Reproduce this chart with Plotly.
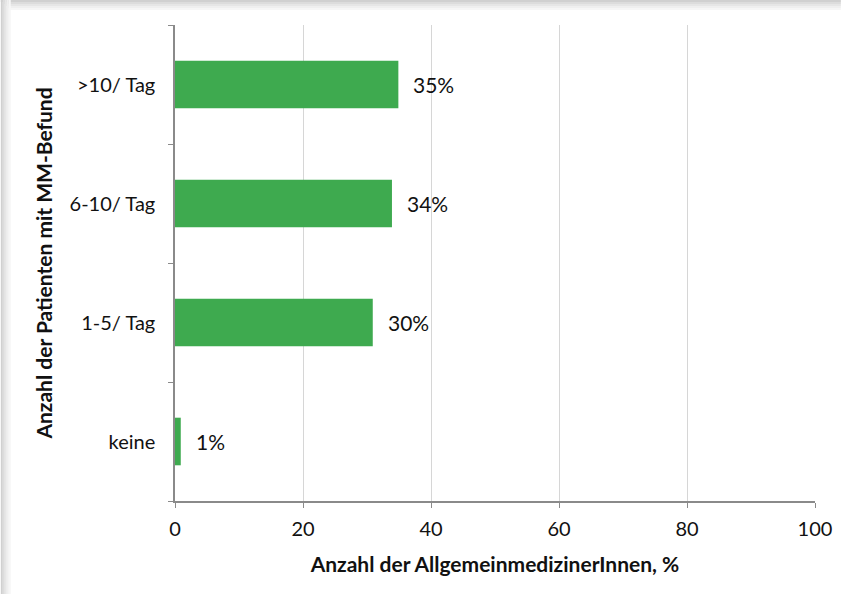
import plotly.graph_objects as go

categories = ["keine", "1-5/ Tag", "6-10/ Tag", ">10/ Tag"]
values = [0.9, 30.9, 33.9, 34.9]
labels = ["1%", "30%", "34%", "35%"]
x_ticks = [0, 20, 40, 60, 80, 100]

FONT = "Lato"
GREEN = "#3EAA4F"
TXT = "#111111"

fig = go.Figure()
fig.add_trace(go.Bar(
    x=values, y=categories, orientation="h",
    marker=dict(color=GREEN, line=dict(width=0)),
    width=0.4, hoverinfo="skip",
))

for v, c, t in zip(values, categories, labels):
    fig.add_annotation(x=v, y=c, text=t, showarrow=False, xanchor="left",
                       xshift=13, font=dict(family=FONT, size=21, color=TXT))

fig.update_layout(
    width=844, height=594,
    margin=dict(l=175, r=26, t=25, b=93),
    paper_bgcolor="white", plot_bgcolor="white",
    showlegend=False,
    font=dict(family=FONT, size=21, color=TXT),
    xaxis=dict(
        range=[0, 100], tickvals=x_ticks, ticktext=[str(v) for v in x_ticks],
        showgrid=True, gridcolor="#d6d6d6", gridwidth=1.3,
        showline=True, linecolor="#8a8a8a", linewidth=1.5,
        ticks="outside", ticklen=5, tickcolor="#8a8a8a",
        ticklabelstandoff=4, zeroline=False,
        tickfont=dict(family=FONT, size=20, color=TXT),
        title=dict(text="<b>Anzahl der AllgemeinmedizinerInnen, %</b>",
                   font=dict(family=FONT, size=21, color=TXT), standoff=19),
    ),
    yaxis=dict(
        type="category", categoryorder="array", categoryarray=categories,
        range=[-0.5, 3.5], tickson="boundaries",
        showgrid=False, showline=True, linecolor="#8a8a8a", linewidth=1.5,
        ticks="outside", ticklen=5, tickcolor="#8a8a8a",
        ticklabelstandoff=14,
        tickfont=dict(family=FONT, size=20, color=TXT),
        title=dict(text="<b>Anzahl der Patienten mit MM-Befund</b>",
                   font=dict(family=FONT, size=21, color=TXT), standoff=11),
    ),
)

# panel shadow along left and top edges
shades = ["#d0d0d0", "#dcdcdc", "#e6e6e6", "#efefef", "#f6f6f6"]
for i, col in enumerate(shades):
    fig.add_shape(type="rect", xref="paper", yref="paper",
                  x0=(i * 2 - 175) / 643, x1=(i * 2 + 2 - 175) / 643,
                  y0=(594 - 93 - 594) / 476, y1=(594 - 93 - 2 * i) / 476 + 25 / 476,
                  line=dict(width=0), fillcolor=col, layer="below")
    fig.add_shape(type="rect", xref="paper", yref="paper",
                  x0=(i * 2 - 175) / 643, x1=1 + 26 / 643,
                  y0=1 + (25 - i * 2 - 2) / 476, y1=1 + (25 - i * 2) / 476,
                  line=dict(width=0), fillcolor=col, layer="below")

fig.write_html("out.html")
